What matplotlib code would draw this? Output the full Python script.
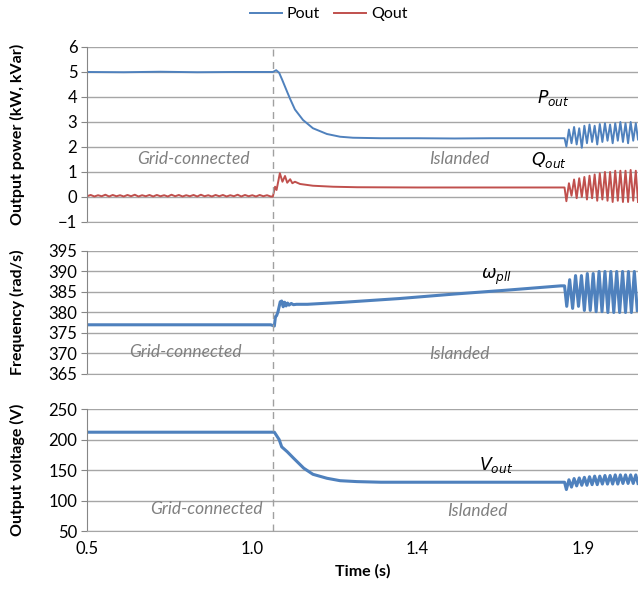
import matplotlib
matplotlib.use('Agg')
import matplotlib.pyplot as plt

plt.rcParams['font.family'] = ['Lato', 'DejaVu Sans']
plt.rcParams['mathtext.fontset'] = 'dejavusans'

# colours (Excel 2007 defaults)
BLUE = '#4f81bd'
RED = '#c0504d'
GRID = '#a6a6a6'
NOTE = '#808080'

# x axis: category style labels
x_ticks = [0.5, 0.95, 1.4, 1.85]
x_tick_labels = ['0.5', '1.0', '1.4', '1.9']
islanding_time = 1.006

# shared time stamps for the unstable tail (P, Q, V)
t_osc = [1.800, 1.805, 1.812, 1.819, 1.826, 1.833, 1.840, 1.847, 1.854, 1.861,
         1.868, 1.875, 1.882, 1.889, 1.896, 1.903, 1.910, 1.917, 1.924, 1.931,
         1.938, 1.945, 1.952, 1.959, 1.966, 1.973, 1.980, 1.987, 1.994, 2.000]

# ---- Pout (kW)
pout_t = [0.50, 0.60, 0.70, 0.80, 0.90, 1.000, 1.006, 1.015, 1.023, 1.031,
          1.045, 1.053, 1.066, 1.088, 1.115, 1.153, 1.189, 1.224, 1.30, 1.40,
          1.50, 1.60, 1.70, 1.79]
pout_v = [5.00, 4.99, 5.01, 4.99, 5.00, 5.00, 5.00, 5.07, 4.97, 4.70,
          4.20, 3.92, 3.50, 3.08, 2.75, 2.52, 2.41, 2.37, 2.35, 2.35,
          2.34, 2.35, 2.35, 2.35]
pout_osc = [2.35, 2.02, 2.70, 2.15, 2.80, 2.10, 2.75, 1.97, 2.85, 2.15,
            2.90, 2.20, 2.85, 2.10, 2.92, 2.20, 2.95, 2.25, 2.90, 2.15,
            2.95, 2.25, 3.00, 2.20, 2.95, 2.15, 3.00, 2.25, 2.95, 2.30]

# ---- Qout (kVar)
qout_t = [0.50, 0.51, 0.52, 0.53, 0.54, 0.55, 0.56, 0.57, 0.58, 0.59,
          0.60, 0.61, 0.62, 0.63, 0.64, 0.65, 0.66, 0.67, 0.68, 0.69,
          0.70, 0.71, 0.72, 0.73, 0.74, 0.75, 0.76, 0.77, 0.78, 0.79,
          0.80, 0.81, 0.82, 0.83, 0.84, 0.85, 0.86, 0.87, 0.88, 0.89,
          0.90, 0.91, 0.92, 0.93, 0.94, 0.95, 0.96, 0.97, 0.98, 0.99,
          1.00, 1.006, 1.012, 1.016, 1.025, 1.032, 1.039, 1.045, 1.053, 1.059,
          1.066, 1.080, 1.115, 1.170, 1.235, 1.40, 1.60, 1.79]
qout_v = [0.03, 0.08, 0.02, 0.07, 0.03, 0.09, 0.02, 0.08, 0.03, 0.07,
          0.02, 0.08, 0.03, 0.09, 0.02, 0.07, 0.03, 0.08, 0.02, 0.08,
          0.03, 0.07, 0.02, 0.09, 0.03, 0.08, 0.02, 0.07, 0.03, 0.08,
          0.02, 0.09, 0.03, 0.07, 0.02, 0.08, 0.03, 0.08, 0.02, 0.07,
          0.03, 0.09, 0.02, 0.08, 0.03, 0.07, 0.02, 0.08, 0.03, 0.07,
          0.02, 0.02, 0.41, 0.28, 0.95, 0.61, 0.84, 0.57, 0.71, 0.55,
          0.61, 0.52, 0.45, 0.41, 0.39, 0.38, 0.38, 0.38]
qout_osc = [0.38, -0.17, 0.55, 0.05, 0.70, -0.05, 0.75, 0.00, 0.80, -0.10,
            0.85, -0.05, 0.90, -0.15, 0.95, -0.10, 1.00, -0.15, 1.00, -0.20,
            1.05, -0.15, 1.05, -0.20, 1.05, -0.20, 1.08, -0.15, 1.05, -0.20]

# ---- omega_pll (rad/s)
w_t = [0.50, 1.000, 1.010, 1.013, 1.016, 1.020, 1.026, 1.030, 1.034, 1.038,
       1.042, 1.046, 1.050, 1.056, 1.062, 1.07, 1.10, 1.20, 1.35, 1.50,
       1.65, 1.79]
w_v = [377.0, 377.0, 376.7, 379.0, 379.2, 380.2, 382.6, 382.8, 381.4, 382.5,
       381.6, 382.3, 381.8, 382.2, 381.9, 382.0, 382.0, 382.5, 383.4, 384.5,
       385.5, 386.5]
w_osc_t = [1.800, 1.806, 1.814, 1.822, 1.830, 1.838, 1.846, 1.854, 1.862, 1.870,
           1.878, 1.886, 1.894, 1.902, 1.910, 1.918, 1.926, 1.934, 1.942, 1.950,
           1.958, 1.966, 1.974, 1.982, 1.990, 1.998]
w_osc = [386.5, 381.5, 388.0, 381.0, 389.0, 381.5, 389.0, 380.5, 389.5, 380.5,
         389.5, 380.2, 390.0, 380.2, 390.0, 380.0, 390.0, 380.0, 390.0, 380.0,
         390.0, 380.0, 390.0, 380.0, 390.0, 380.5]

# ---- Vout (V)
v_t = [0.50, 1.000, 1.010, 1.023, 1.030, 1.045, 1.063, 1.090, 1.115, 1.153,
       1.189, 1.235, 1.30, 1.40, 1.50, 1.60, 1.70, 1.79]
v_v = [212, 212, 212, 200, 188, 180, 169, 153, 143, 136.5,
       132.5, 131, 130, 130, 130, 130, 130, 130]
v_osc = [130, 118, 134, 122, 136, 124, 137, 125, 138, 125,
         139, 126, 140, 126, 140, 127, 141, 127, 141, 127,
         142, 127, 142, 128, 142, 128, 142, 128, 142, 128]

fig = plt.figure(figsize=(6.38, 5.91), dpi=100)
ax1 = fig.add_axes([0.1364, 0.6244, 0.8636, 0.2961])
ax2 = fig.add_axes([0.1364, 0.3672, 0.8636, 0.2081])
ax3 = fig.add_axes([0.1364, 0.1015, 0.8636, 0.2064])

ax1.plot(pout_t + t_osc, pout_v + pout_osc, color=BLUE, lw=1.4, label='Pout')
ax1.plot(qout_t + t_osc, qout_v + qout_osc, color=RED, lw=1.4, label='Qout')
ax2.plot(w_t + w_osc_t, w_v + w_osc, color=BLUE, lw=2.2)
ax3.plot(v_t + t_osc, v_v + v_osc, color=BLUE, lw=2.2)

ylims = [(-1, 6, 1), (365, 395, 5), (50, 250, 50)]
ylabels = ['Output power (kW, kVar)', 'Frequency (rad/s)', 'Output voltage (V)']
for ax, (lo, hi, step), lab in zip([ax1, ax2, ax3], ylims, ylabels):
    ax.set_xlim(0.5, 2.0)
    ax.set_ylim(lo, hi)
    ax.set_yticks(range(lo, hi + 1, step))
    ax.yaxis.grid(True, color=GRID, lw=1)
    ax.set_axisbelow(True)
    for s in ['top', 'right']:
        ax.spines[s].set_visible(False)
    ax.spines['left'].set_color('#868686')
    ax.spines['bottom'].set_color(GRID)
    ax.tick_params(axis='y', length=4, color='#868686', labelsize=12, pad=3)
    ax.tick_params(axis='x', length=0)
    ax.set_xticks(x_ticks)
    ax.set_xticklabels([])
    ax.set_ylabel(lab, fontsize=11.5, fontweight='bold')
    ax.yaxis.set_label_coords(-0.112, 0.5)

ax3.set_xticklabels(x_tick_labels, fontsize=12)
ax3.tick_params(axis='x', pad=7)
ax3.set_xlabel('Time (s)', fontsize=11.5, fontweight='bold', labelpad=5)

# dashed islanding marker through all three panels
ax3.axvline(islanding_time, ymin=0, ymax=3.97, color='#a0a0a0', lw=1,
            ls=(0, (5, 4)), clip_on=False, zorder=5)

note = dict(color=NOTE, style='italic', fontsize=12.5, ha='center', va='center')
ax1.text(0.789, 1.52, 'Grid-connected', **note)
ax1.text(1.515, 1.52, 'Islanded', **note)
ax2.text(0.767, 370.4, 'Grid-connected', **note)
ax2.text(1.515, 369.9, 'Islanded', **note)
ax3.text(0.824, 86, 'Grid-connected', **note)
ax3.text(1.562, 82.8, 'Islanded', **note)

sym = dict(fontsize=12.5, ha='center', va='center')
ax1.text(1.769, 3.96, r'$P_{out}$', **sym)
ax1.text(1.758, 1.48, r'$Q_{out}$', **sym)
ax2.text(1.616, 388.7, r'$\omega_{pll}$', **sym)
ax3.text(1.614, 158, r'$V_{out}$', **sym)

fig.legend(loc='upper center', bbox_to_anchor=(0.515, 1.012), ncol=2,
           frameon=False, fontsize=11.5, handlelength=2.0, handletextpad=0.3,
           columnspacing=0.9)

fig.savefig('out.png', dpi=100)
